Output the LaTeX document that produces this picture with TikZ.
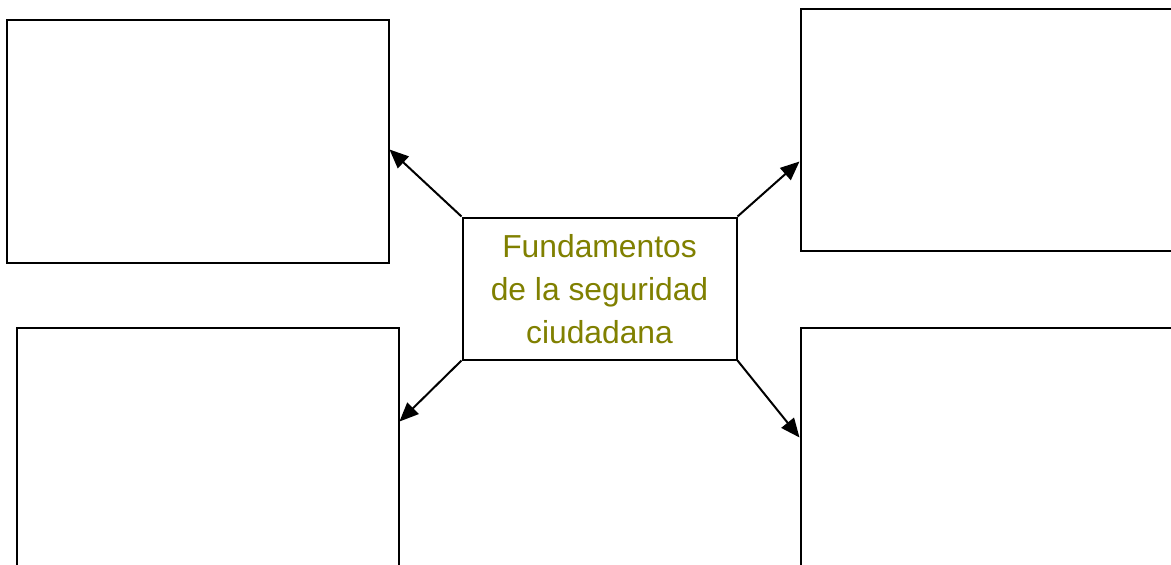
\documentclass[tikz,border=0pt]{standalone}
\usepackage{fontspec}
\setmainfont{Liberation Sans}
\usetikzlibrary{arrows.meta,calc}
\definecolor{olivetext}{RGB}{128,128,0}
\begin{document}
\begin{tikzpicture}[x=1pt,y=-1pt,
  box/.style={draw=black,line width=2pt,inner sep=0pt,anchor=north west,fill=white},
  link/.style={line width=2pt,-{Triangle[length=19pt,width=16pt]}},
  label/.style={text=olivetext,font=\fontsize{31.8}{43}\selectfont,align=center}]
\useasboundingbox (0,0) rectangle (1171,565);
\clip (0,0) rectangle (1171,565);
\node[box,minimum width=382pt,minimum height=243pt] (tl) at (5.5,18.5) {};
\node[box,minimum width=390pt,minimum height=242pt] (tr) at (799.5,7.5) {};
\node[box,minimum width=382pt,minimum height=260pt] (bl) at (15.5,326.5) {};
\node[box,minimum width=390pt,minimum height=260pt] (br) at (799.5,326.5) {};
\node[box,minimum width=274pt,minimum height=142pt] (c) at (461.5,216.5) {};
\node[label] (t) at ([yshift=-1pt]c.center) {Fundamentos\\de la seguridad\\ciudadana};
\draw[link] (c.north west) -- ([yshift=-131pt]tl.north east);
\draw[link] (c.north east) -- ([yshift=-154pt]tr.north west);
\draw[link] (c.south west) -- ([yshift=-95pt]bl.north east);
\draw[link] (c.south east) -- ([yshift=-111pt]br.north west);
\end{tikzpicture}
\end{document}
